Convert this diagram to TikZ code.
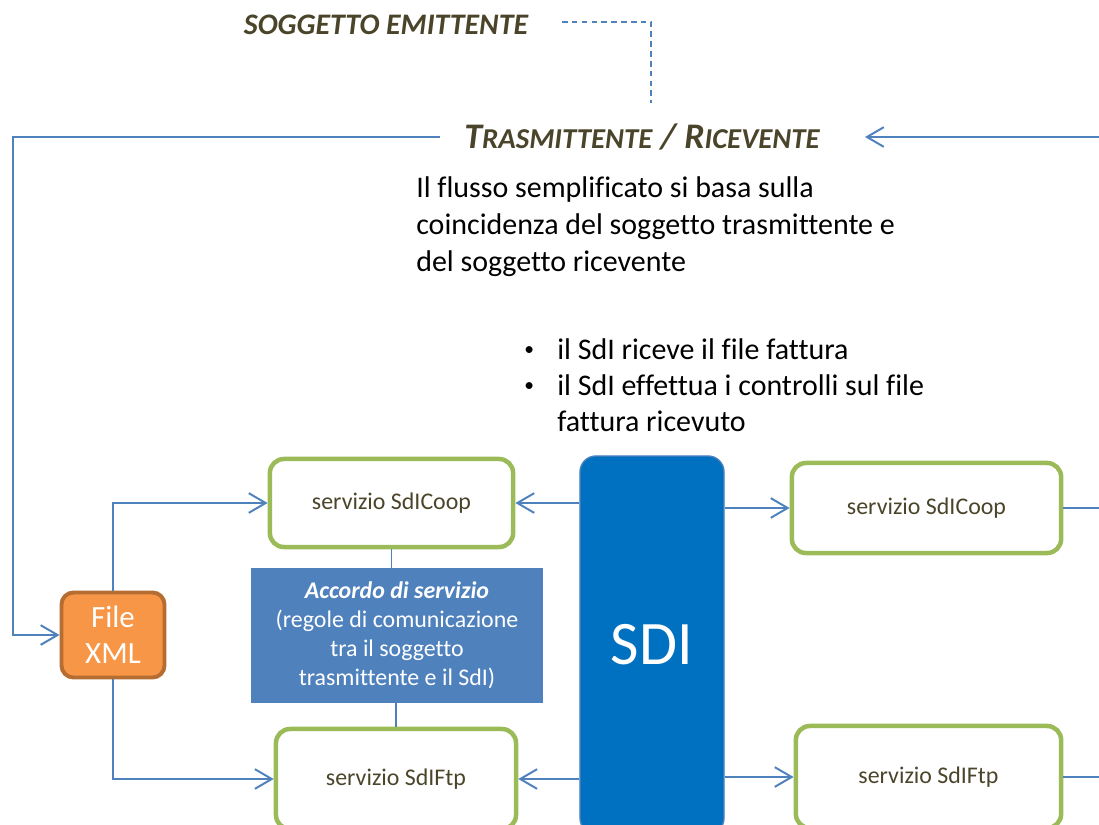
\documentclass[tikz,border=0pt]{standalone}
\usepackage{fontspec}
\setmainfont[Ligatures=NoCommon]{Carlito}
\usetikzlibrary{arrows.meta}

\definecolor{linkblue}{RGB}{79,129,189}
\definecolor{boxgreen}{RGB}{155,187,89}
\definecolor{xmlorange}{RGB}{247,150,70}
\definecolor{xmlborder}{RGB}{182,109,49}
\definecolor{sdiblue}{RGB}{0,112,192}
\definecolor{olivetext}{RGB}{74,69,42}

\newcommand{\fakesc}[2]{{\fontsize{25.6}{30}\selectfont #1}{\fontsize{20.5}{24}\selectfont #2}}
\newcommand{\smallbullet}{\makebox[0.825cm][l]{\raisebox{0.12em}{\scalebox{0.65}{\textbullet}}}}

\begin{document}
\begin{tikzpicture}[x=0.025cm, y=-0.025cm,
    link/.style = {draw=linkblue, line width=1.4pt},
    >={Straight Barb[length=12pt,width=14pt]},
    servbox/.style = {draw=boxgreen, line width=3.2pt, rounded corners=0.35cm, fill=white,
        text=olivetext, font=\fontsize{17}{20.6}\selectfont},
    title/.style = {text=olivetext, inner sep=0pt}]
    \useasboundingbox (0,0) rectangle (1099,824);

    % titoli
    \node[title, font=\bfseries\itshape\fontsize{21.2}{25}\selectfont] (soggetto) at (386,25) {SOGGETTO EMITTENTE};
    \node[title, font=\bfseries\itshape\fontsize{25.6}{30}\selectfont] (trasric) at (642,137)
        {\fakesc{T}{RASMITTENTE} / \fakesc{R}{ICEVENTE}};
    \coordinate (dashStart) at (562,22);
    \coordinate (dashEnd) at (651,103);
    \coordinate (frameL) at (13,635);
    \coordinate (trasricL) at (440,137);
    \coordinate (trasricR) at (865,137);
    \coordinate (edgeR) at (1099,137);

    % testi
    \node[anchor=north west, inner sep=0pt, align=left, font=\fontsize{21.3}{26.3}\selectfont] (flusso) at (416,176)
        {Il flusso semplificato si basa sulla\\coincidenza del soggetto trasmittente e\\del soggetto ricevente};
    \node[anchor=north west, inner sep=0pt, align=left, font=\fontsize{21.3}{25.6}\selectfont] (controlli) at (524,338)
        {\smallbullet il SdI riceve il file fattura\\
         \smallbullet il SdI effettua i controlli sul file\\
         \makebox[0.825cm][l]{}fattura ricevuto};

    % blocchi
    \node[draw=xmlborder, fill=xmlorange, line width=2.8pt, rounded corners=0.3cm, text=white,
        minimum width=2.575cm, minimum height=2.125cm, align=center,
        font=\fontsize{22}{25.6}\selectfont] (filexml) at (113,635) {File\\XML};
    \node[servbox, minimum width=6.08cm, minimum height=2.2cm] (coopL) at (391.5,503) {servizio SdICoop};
    \node[servbox, minimum width=6.0cm, minimum height=2.5cm] (ftpL) at (396,779) {servizio SdIFtp};
    \node[fill=linkblue, text=white, minimum width=7.3cm, minimum height=3.375cm, align=center,
        font=\fontsize{17}{20.6}\selectfont] (accordo) at (397,635.5)
        {\textbf{\textit{Accordo di servizio}}\\(regole di comunicazione\\tra il soggetto\\trasmittente e il SdI)};
    \node[draw=linkblue, fill=sdiblue, line width=1pt, rounded corners=0.4cm, text=white,
        minimum width=3.6cm, minimum height=9.45cm, font=\fontsize{44}{50}\selectfont] (sdi) at (652,645) {SDI};
    \node[servbox, minimum width=6.73cm, minimum height=2.25cm] (coopR) at (926.5,508) {servizio SdICoop};
    \node[servbox, minimum width=6.63cm, minimum height=2.55cm] (ftpR) at (928.5,777) {servizio SdIFtp};

    % collegamenti
    \draw[link, line width=1.2pt, dash pattern=on 4pt off 3pt] (dashStart) -| (dashEnd);
    \draw[link, ->] (trasricL) -| (frameL) -- (filexml.west);
    \draw[link, ->] (edgeR) -- (trasricR);
    \draw[link, ->] (filexml.north) |- (coopL.west);
    \draw[link, ->] (filexml.south) |- (ftpL.west);
    \draw[link] (coopL.south) -- (coopL.south |- accordo.north);
    \draw[link] (ftpL.north) -- (ftpL.north |- accordo.south);
    \draw[link, ->] (sdi.west |- coopL.east) -- (coopL.east);
    \draw[link, ->] (sdi.west |- ftpL.east) -- (ftpL.east);
    \draw[link, ->] (sdi.east |- coopR.west) -- (coopR.west);
    \draw[link, ->] (sdi.east |- ftpR.west) -- (ftpR.west);
    \draw[link] (coopR.east) -- (coopR.east -| edgeR);
    \draw[link] (ftpR.east) -- (ftpR.east -| edgeR);
\end{tikzpicture}
\end{document}
